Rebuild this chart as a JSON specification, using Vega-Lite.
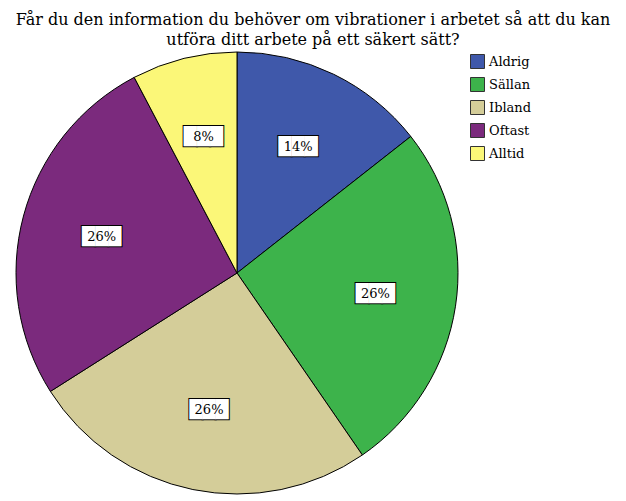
{
  "$schema": "https://vega.github.io/schema/vega-lite/v6.json",
  "autosize": {"type": "none"},
  "padding": {"left": 16, "top": 52, "right": 168, "bottom": 7},
  "width": 442,
  "height": 442,
  "background": "white",
  "title": {
    "text": ["Får du den information du behöver om vibrationer i arbetet så att du kan", "utföra ditt arbete på ett säkert sätt?"],
    "font": "DejaVu Serif",
    "fontSize": 16,
    "fontWeight": "normal",
    "color": "black",
    "lineHeight": 20,
    "anchor": "middle",
    "dx": 76,
    "offset": 2
  },
  "data": {
    "values": [
      {"svar": "Aldrig", "ordning": 1, "andel": 0.144},
      {"svar": "Sällan", "ordning": 2, "andel": 0.26},
      {"svar": "Ibland", "ordning": 3, "andel": 0.256},
      {"svar": "Oftast", "ordning": 4, "andel": 0.263},
      {"svar": "Alltid", "ordning": 5, "andel": 0.077}
    ]
  },
  "encoding": {
    "theta": {"field": "andel", "type": "quantitative", "stack": true},
    "order": {"field": "ordning", "type": "quantitative"}
  },
  "layer": [
    {
      "mark": {"type": "arc", "stroke": "black", "strokeWidth": 1},
      "encoding": {
        "color": {
          "field": "svar",
          "type": "nominal",
          "scale": {
            "domain": ["Aldrig", "Sällan", "Ibland", "Oftast", "Alltid"],
            "range": ["#3F58AA", "#3DB34B", "#D4CD99", "#7B2A7D", "#FBF778"]
          },
          "legend": {
            "title": null,
            "orient": "right",
            "offset": 10,
            "padding": 2,
            "symbolType": "square",
            "symbolSize": 196,
            "symbolStrokeColor": "#333333",
            "symbolStrokeWidth": 1,
            "symbolOpacity": 1,
            "labelFont": "DejaVu Serif",
            "labelFontSize": 13,
            "labelColor": "black",
            "rowPadding": 4
          }
        }
      }
    },
    {
      "mark": {"type": "text", "radius": 140, "font": "DejaVu Sans", "fontSize": 17, "fill": "white", "stroke": "black", "strokeWidth": 2, "baseline": "middle", "align": "center"},
      "encoding": {"text": {"value": "███"}}
    },
    {
      "mark": {"type": "text", "radius": 140, "font": "DejaVu Sans", "fontSize": 17, "fill": "white", "baseline": "middle", "align": "center"},
      "encoding": {"text": {"value": "███"}}
    },
    {
      "mark": {"type": "text", "radius": 140, "font": "DejaVu Serif", "fontSize": 13, "fill": "black", "baseline": "middle", "align": "center"},
      "encoding": {"text": {"field": "andel", "type": "quantitative", "format": ".0%"}}
    }
  ]
}
